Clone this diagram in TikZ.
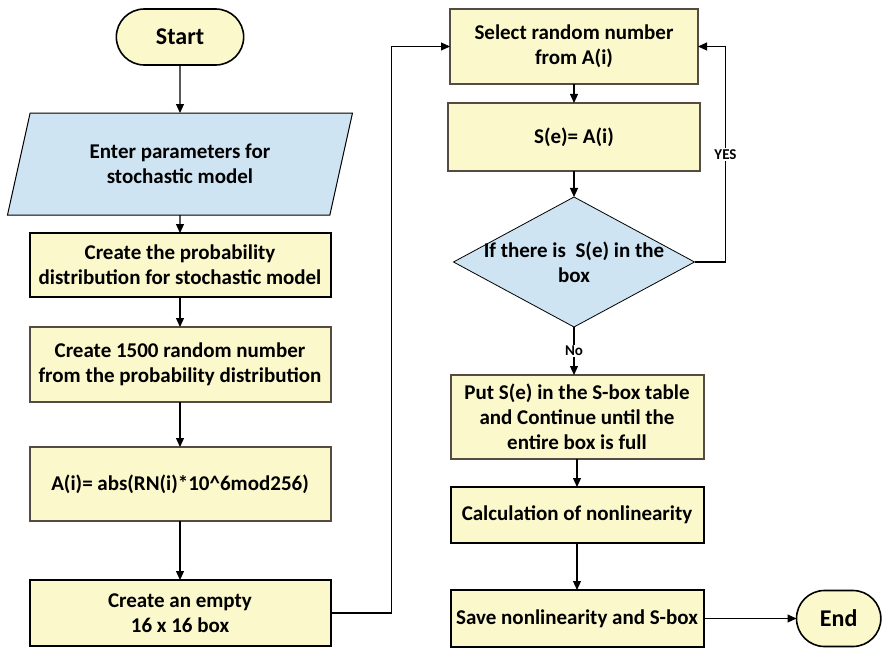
\documentclass[tikz,border=0pt]{standalone}
\usepackage{fontspec}
\setmainfont{Carlito}
\usetikzlibrary{positioning,shapes.geometric,shapes.misc,arrows.meta}

\definecolor{boxyellow}{RGB}{251,248,203}
\definecolor{boxblue}{RGB}{206,228,242}
\definecolor{boxgray}{RGB}{84,76,68}

\tikzset{
	every node/.style={font=\bfseries\fontsize{21}{25}\selectfont, align=center, outer sep=0pt},
	smalltext/.style={font=\bfseries\fontsize{15}{17}\selectfont, inner sep=1.5pt},
	terminal/.style={rounded rectangle, draw=black, line width=1.6pt, fill=boxyellow,
		minimum height=56pt, font=\bfseries\fontsize{24}{28}\selectfont},
	inputbox/.style={trapezium, trapezium left angle=64, trapezium right angle=116,
		trapezium stretches body, draw=black, line width=1pt, fill=boxblue,
		minimum width=345pt, minimum height=102pt},
	procbox/.style={rectangle, draw=boxgray, line width=2pt, fill=boxyellow, inner sep=2pt},
	darkbox/.style={procbox, draw=black},
	decision/.style={diamond, draw=black, line width=0.8pt, fill=boxblue, inner sep=0pt,
		minimum width=241pt, minimum height=130pt},
	arr/.style={line width=1.1pt, -{Triangle[length=9pt,width=8pt]}},
}

\begin{document}
\begin{tikzpicture}
		\useasboundingbox (0,0) rectangle (882pt,-647pt);
		
		% left column
		\node[terminal, minimum width=134pt] (start) at (180pt,-37pt) {Start};
		\node[inputbox, below=48pt of start] (param) {Enter parameters for\\stochastic model};
		\node[darkbox, below=18pt of param, minimum width=301pt, minimum height=64pt] (prob) {Create the probability\\distribution for stochastic model};
		\node[procbox, below=30pt of prob, minimum width=301pt, minimum height=75pt] (rand) {Create 1500 random number\\from the probability distribution};
		\node[procbox, below=45pt of rand, minimum width=301pt, minimum height=74pt] (mapai) {A(i)= abs(RN(i)*10\^{}6mod256)};
		\node[darkbox, below=59pt of mapai, minimum width=301pt, minimum height=66pt] (empty) {Create an empty\\16 x 16 box};
		
		% right column
		\node[procbox, minimum width=248pt, minimum height=75pt] (select) at (574pt,-46.5pt) {Select random number\\from A(i)};
		\node[procbox, below=19pt of select, minimum width=252pt, minimum height=68pt] (sete) {S(e)= A(i)};
		\node[decision, below=26pt of sete,
			label={center:If there is~~S(e) in the\\box}] (check) {};
		\node[procbox, below=48pt of check, xshift=3pt, minimum width=253pt, minimum height=84pt] (put) {Put S(e) in the S-box table\\and Continue until the\\entire box is full};
		\node[darkbox, below=28pt of put, minimum width=253pt, minimum height=56pt] (calc) {Calculation of nonlinearity};
		\node[darkbox, below=47pt of calc, minimum width=253pt, minimum height=57pt] (save) {Save nonlinearity and S-box};
		\node[terminal, right=93pt of save, minimum width=91pt] (stop) {End};
		
		% connectors
		\draw[arr] (start) -- (param);
		\draw[arr] (param) -- (prob);
		\draw[arr] (prob) -- (rand);
		\draw[arr] (rand) -- (mapai);
		\draw[arr] (mapai) -- (empty);
		\draw[arr] (empty.east) -- ++(61pt,0) |- (select.west);
		\draw[arr] (select) -- (sete);
		\draw[arr] (sete) -- (check);
		\draw[arr] (check.east) -- ++(31pt,0) |- node[pos=.25, fill=white, smalltext] {YES} (select.east);
		\draw[arr] (check.south) -- node[fill=white, smalltext] {No} (check.south |- put.north);
		\draw[arr] (put) -- (calc);
		\draw[arr] (calc) -- (save);
		\draw[arr] (save) -- (stop);
		
\end{tikzpicture}
\end{document}
